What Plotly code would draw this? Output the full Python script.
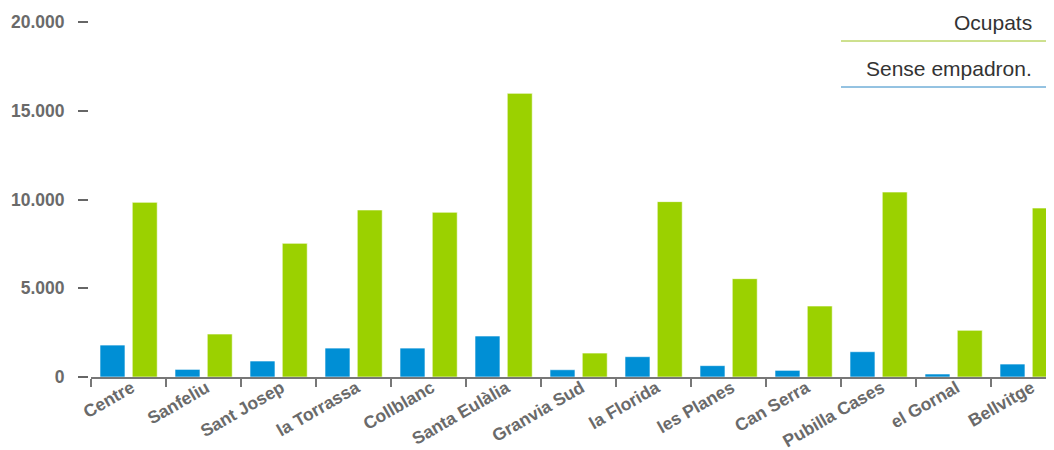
import plotly.graph_objects as go

categories = ["Centre", "Sanfeliu", "Sant Josep", "la Torrassa", "Collblanc",
              "Santa Eulàlia", "Granvia Sud", "la Florida", "les Planes",
              "Can Serra", "Pubilla Cases", "el Gornal", "Bellvitge"]
sense_empadron = [1800, 430, 900, 1630, 1630, 2310, 410, 1145, 640, 375, 1425, 170, 730]
ocupats = [9840, 2420, 7530, 9410, 9280, 15980, 1350, 9880, 5540, 4000, 10420, 2630, 9520]
y_ticks = [0, 5000, 10000, 15000, 20000]

BLUE = "#008FD5"
GREEN = "#9BD100"
FONT = "Liberation Sans, Arial, sans-serif"

OFF = 8  # page body margin
W, H = 1046, 462
ML, MR, MT, MB = 80, 0, 14, 93
PW = W - ML - MR
PH = H - MT - MB

def px(x):
    return (x - OFF - ML) / PW

def py(y):
    return (H - MB - (y - OFF)) / PH

fig = go.Figure()
fig.add_trace(go.Bar(
    x=categories, y=sense_empadron, name="Sense empadron.",
    marker=dict(color=BLUE, line=dict(color="rgba(255,255,255,0.6)", width=1)),
    width=0.333, offset=-0.38,
))
fig.add_trace(go.Bar(
    x=categories, y=ocupats, name="Ocupats",
    marker=dict(color=GREEN, line=dict(color="rgba(255,255,255,0.6)", width=1)),
    width=0.333, offset=0.05,
))

cat_px = 75.0
x_start = 3
x_range_end = -0.5 + (PW - x_start) / cat_px

fig.update_layout(
    width=W, height=H,
    margin=dict(l=ML, r=MR, t=MT, b=MB, pad=0),
    paper_bgcolor="white", plot_bgcolor="white",
    barmode="overlay",
    showlegend=False,
    separators=",.",
    font=dict(family=FONT, color="#666666"),
    xaxis=dict(
        domain=[x_start / PW, 1],
        range=[-0.5, x_range_end],
        type="category",
        automargin=False,
        showline=True, linecolor="#777777", linewidth=2,
        ticks="outside", tickson="boundaries", ticklen=8, tickcolor="#777777", tickwidth=2,
        tickangle=-30,
        ticklabelshift=3,
        ticklabelstandoff=-8,
        tickfont=dict(family=FONT, size=17.5, color="#6a6a6a", weight="bold"),
        showgrid=False, zeroline=False,
    ),
    yaxis=dict(
        range=[0, 20000],
        tickvals=y_ticks,
        tickformat=",d",
        anchor="free", position=0,
        automargin=False,
        showline=False, showgrid=False, zeroline=False,
        ticks="outside", ticklen=10, tickcolor="#666666", tickwidth=1.5,
        ticklabelstandoff=10,
        tickfont=dict(family=FONT, size=17.5, color="#6a6a6a", weight="bold"),
    ),
)

# custom legend
legend_items = [("Ocupats", "#9CC21E", 23, 41), ("Sense empadron.", "#2A86C4", 68, 87)]
for label, color, ty, ly in legend_items:
    fig.add_annotation(
        x=px(1034), y=py(ty), xref="paper", yref="paper",
        text=label, showarrow=False, xanchor="right", yanchor="middle",
        font=dict(family=FONT, size=21, color="#333333"),
    )
    fig.add_shape(
        type="line", xref="paper", yref="paper",
        x0=px(841), x1=px(1046), y0=py(ly), y1=py(ly),
        line=dict(color=color, width=1),
    )

fig.write_html("out.html")
